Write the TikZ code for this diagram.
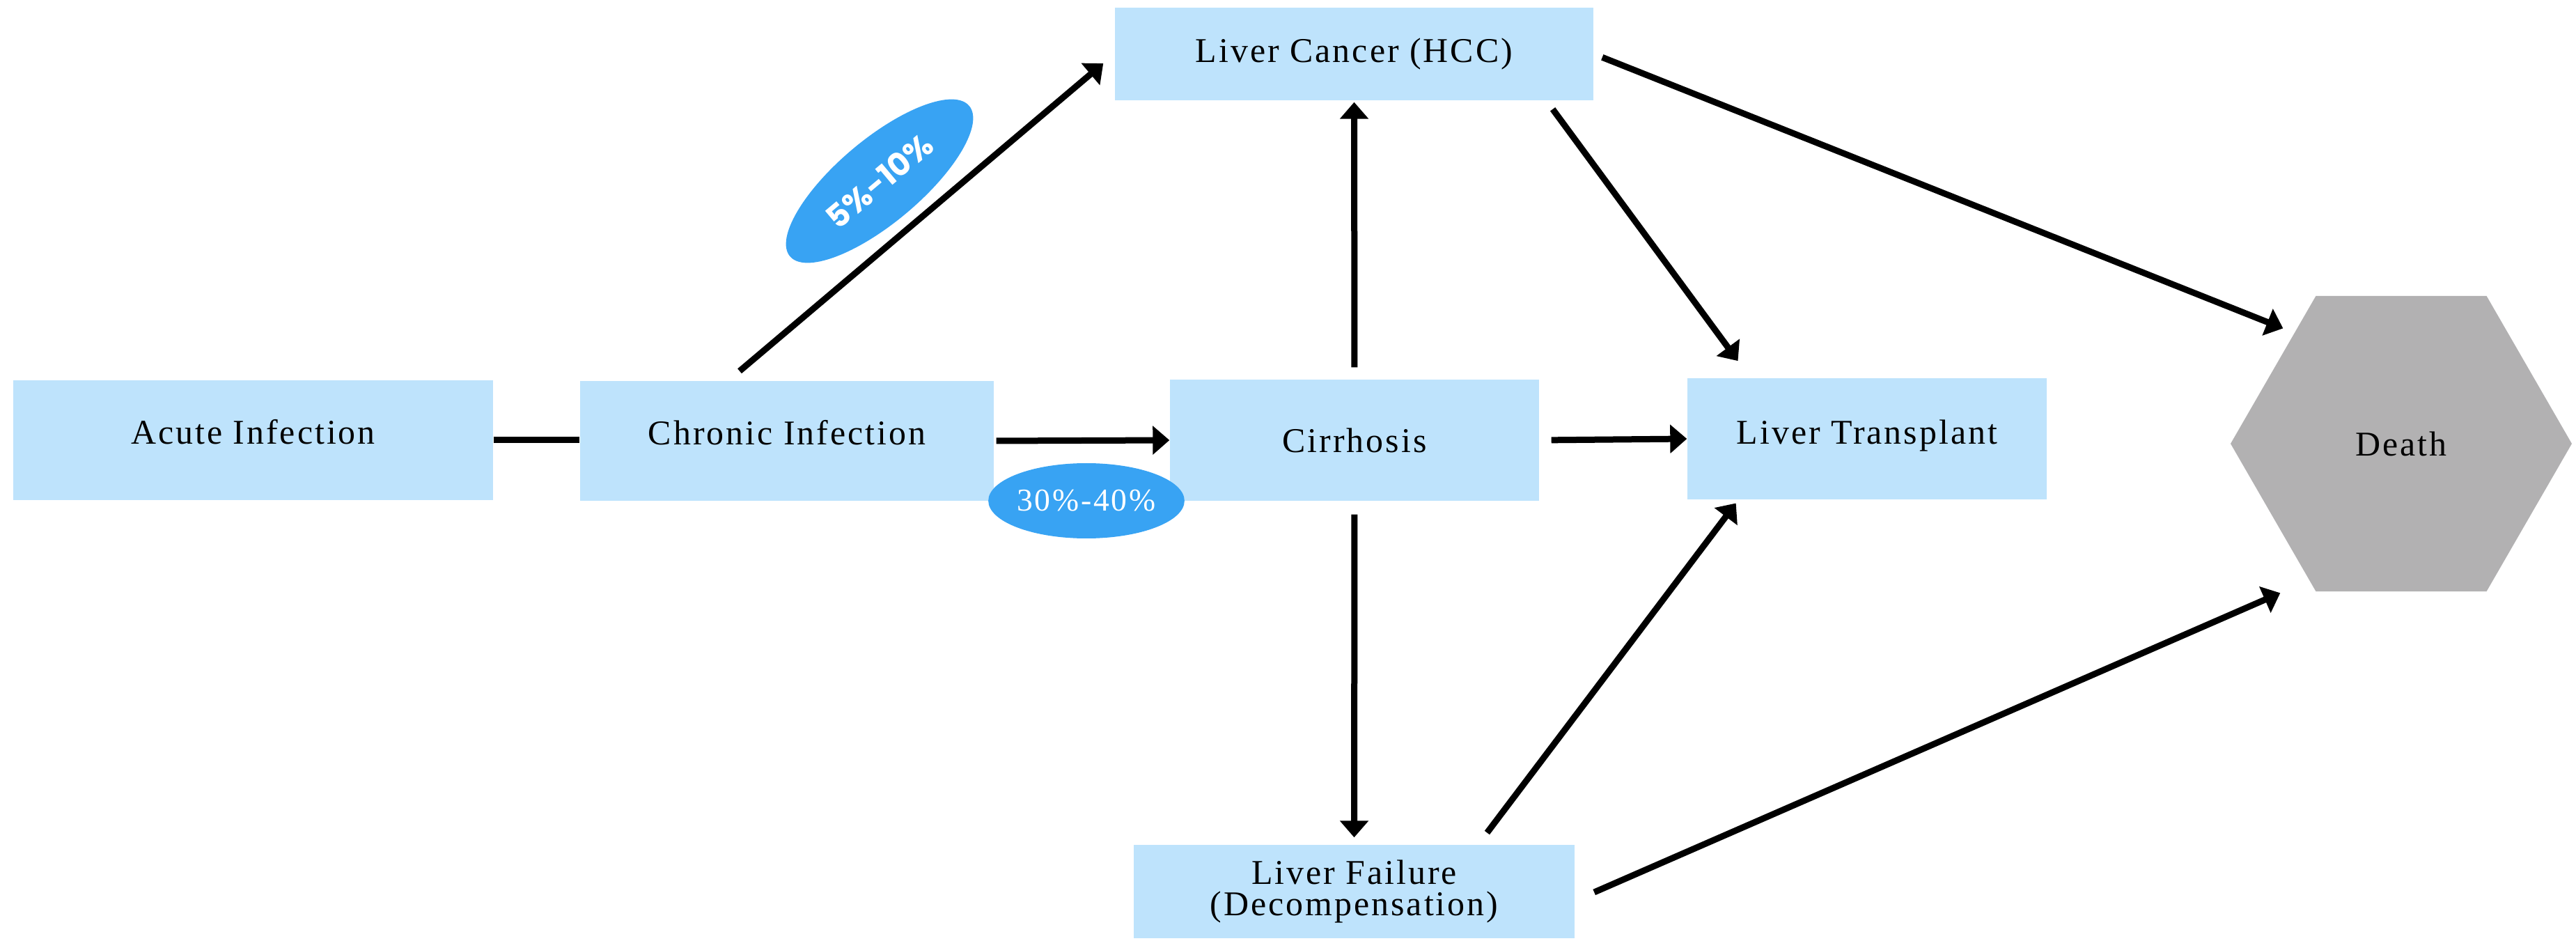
\documentclass[tikz,border=0pt]{standalone}
\usepackage{fontspec}
\setmainfont{Liberation Serif}[LetterSpace=6]
\newfontfamily\popfont{Poppins}
\usepackage{tikz}
\usepackage{xcolor}
\usetikzlibrary{arrows.meta,shapes.geometric}
\definecolor{boxblue}{HTML}{BEE3FC}
\definecolor{pillblue}{HTML}{38A3F3}
\definecolor{deathgray}{HTML}{B2B1B2}

\begin{document}
\begin{tikzpicture}
	\tikzstyle{box} = [fill=boxblue, inner sep=0pt, align=center, font=\fontsize{14.2}{13}\selectfont]
	\tikzstyle{line} = [draw=black, line width=0.09cm]
	\tikzstyle{edge} = [line, -{Triangle[length=0.24cm,width=0.40cm]}]
	\tikzstyle{pill} = [ellipse, fill=pillblue, text=white, inner sep=0pt]
	\useasboundingbox (0,0) rectangle (36.99,13.5);
		\node[box, minimum width=6.89cm, minimum height=1.72cm, text depth=0.25cm] (acute) at (3.635,7.18) {Acute Infection};
		\node[box, minimum width=5.94cm, minimum height=1.72cm, text depth=0.25cm] (chronic) at (11.30,7.17) {Chronic Infection};
		\node[box, minimum width=5.30cm, minimum height=1.74cm] (cirr) at (19.45,7.18) {Cirrhosis};
		\node[box, minimum width=5.16cm, minimum height=1.74cm, text depth=0.2cm] (lt) at (26.81,7.20) {Liver Transplant};
		\node[box, minimum width=6.87cm, minimum height=1.33cm] (hcc) at (19.445,12.725) {Liver Cancer (HCC)};
		\node[box, minimum width=6.33cm, minimum height=1.34cm] (lf) at (19.445,0.70) {Liver Failure\\(Decompensation)};
		\node[regular polygon, regular polygon sides=6, minimum size=4.9cm, fill=deathgray, inner sep=0pt,
			font=\fontsize{14.2}{13}\selectfont] (death) at (34.48,7.13) {Death};

		\draw[line] (acute.east) -- (acute.east -| chronic.west);
		\draw[edge, shorten <=0.21cm, shorten >=0.21cm] ([xshift=-0.84cm]chronic.north) -- (hcc.west);
		\draw[edge, shorten <=0.03cm] (chronic.east) -- (cirr.west);
		\draw[edge, shorten <=0.17cm, shorten >=0.02cm] (cirr.north) -- (hcc.south);
		\draw[edge, shorten <=0.17cm] (cirr.east) -- (lt.west);
		\draw[edge, shorten <=0.19cm, shorten >=0.10cm] (cirr.south) -- (lf.north);
		\draw[edge, shorten <=0.15cm, shorten >=0.30cm] ([xshift=-0.68cm]hcc.south east) -- ([xshift=0.91cm]lt.north west);
		\draw[edge, shorten <=0.21cm, shorten >=0.06cm] ([xshift=-1.39cm]lf.north east) -- ([xshift=0.74cm]lt.south west);
		\draw[edge, shorten <=0.13cm, shorten >=0.17cm] (hcc.east) -- (death.134);
		\draw[edge, shorten <=0.30cm, shorten >=0.45cm] ([yshift=-0.13cm]lf.east) -- (death.236);

		\node[pill, minimum width=2.64cm, minimum height=1.08cm, font=\fontsize{13}{15}\selectfont] (p30) at (15.60,6.31) {30\%-40\%};
		\node[pill, minimum width=3.36cm, minimum height=1.20cm, rotate=40, font=\popfont\bfseries\fontsize{13}{15}\selectfont] (p5) at (12.63,10.90) {5\%-10\%};
\end{tikzpicture}
\end{document}
